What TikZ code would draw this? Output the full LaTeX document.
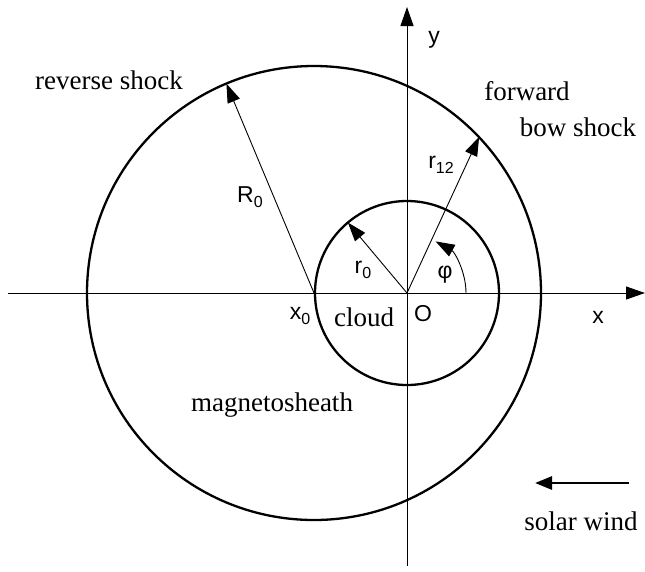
\documentclass[tikz,border=0pt]{standalone}
\usepackage{fontspec}
\setmainfont{Liberation Serif}
\newfontfamily\lsans{Liberation Sans}
\usetikzlibrary{arrows.meta,calc}
\newcommand{\lsub}[1]{\raisebox{-5pt}{\fontsize{16}{16}\selectfont #1}}
\begin{document}
\begin{tikzpicture}[x=1pt,y=-1pt,
  serif/.style={font=\fontsize{27}{29}\selectfont},
  sanslab/.style={font=\lsans\fontsize{23}{25}\selectfont},
  bigtip/.style={-{Triangle[length=19pt,width=13pt]}},
  axis/.style={line width=1pt,bigtip},
  shock/.style={line width=2.3pt},
  radarrow/.style={line width=0.9pt,bigtip}]
\useasboundingbox (0,0) rectangle (645,571);
% key points
\coordinate (O) at (407,293);
\coordinate (X0) at (314,293);
\coordinate (xl) at (8,293);
\coordinate (xr) at (645,293);
\coordinate (yb) at (407,566);
\coordinate (yt) at (407,7);
\coordinate (Rend) at ($(X0)+(112.7:227pt)$);
\coordinate (r0end) at ($(O)+(130:92pt)$);
\coordinate (r12end) at ($(O)+(65.2:172pt)$);
\coordinate (phistart) at ($(O)+(59pt,0pt)$);
\coordinate (swa) at (629,483);
\coordinate (swb) at (535,483);
% axes
\draw[axis] (xl) -- (xr);
\draw[axis] (yb) -- (yt);
% shocks
\draw[shock] (X0) circle[radius=227pt];
\draw[shock] (O) circle[radius=92pt];
% radii
\draw[radarrow] (X0) -- (Rend);
\draw[radarrow] (O) -- (r0end);
\draw[radarrow] (O) -- (r12end);
\draw[radarrow] (phistart) arc[start angle=0,end angle=61,radius=59pt];
% solar wind arrow
\draw[line width=2.8pt,-{Triangle[length=17pt,width=13pt]}] (swa) -- (swb);
% labels
\node[serif] (rs) at (109,80) {reverse shock};
\node[serif] (fw) at (527,91) {forward};
\node[serif] (bs) at (578,127) {bow shock};
\node[serif] (ms) at (272,405) {magnetosheath};
\node[serif] (cl) at (364,317) {cloud};
\node[serif] (sw) at (581,521) {solar wind};
\node[sanslab] (Ol) at (423,314) {O};
\node[sanslab] (x0l) at (300,316) {x\lsub{0}};
\node[sanslab] (r0l) at (363,270) {r\lsub{0}};
\node[sanslab] (R0l) at (250,197) {R\lsub{0}};
\node[sanslab] (r12l) at (441,165) {r\lsub{12}};
\node[sanslab] (phil) at (445,275) {φ};
\node[sanslab] (xl2) at (598,317) {x};
\node[sanslab] (yl) at (434,40) {y};
\end{tikzpicture}
\end{document}
